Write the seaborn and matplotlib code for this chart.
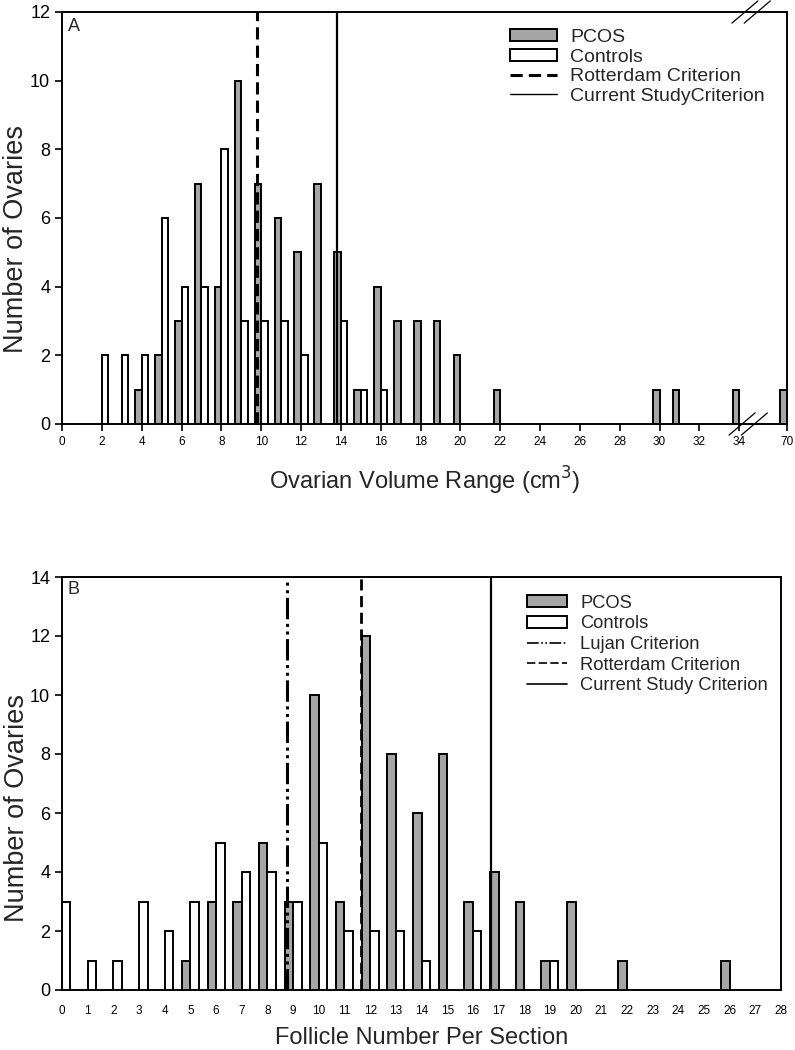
import numpy as np
import pandas as pd
import matplotlib
matplotlib.use("Agg")
import matplotlib.pyplot as plt
from matplotlib.patches import Patch
from matplotlib.lines import Line2D
import seaborn as sns

# Panel A: ovarian volume (cm3)
volume_bins = [2, 3, 4, 5, 6, 7, 8, 9, 10, 11, 12, 13, 14, 15, 16, 17, 18, 19, 20, 22, 30, 31, 34, 70]
volume_pcos = [0, 0, 1, 2, 3, 7, 4, 10, 7, 6, 5, 7, 5, 1, 4, 3, 3, 3, 2, 1, 1, 1, 1, 1]
volume_ctrl = [2, 2, 2, 6, 4, 4, 8, 3, 3, 3, 2, 0, 3, 1, 1, 0, 0, 0, 0, 0, 0, 0, 0, 0]
volume_ticks = [0, 2, 4, 6, 8, 10, 12, 14, 16, 18, 20, 22, 24, 26, 28, 30, 32, 34, 70]
volume_rotterdam = 9.8
volume_current = 13.8

# Panel B: follicle number per section
follicle_bins = list(range(0, 27))
follicle_pcos = [0, 0, 0, 0, 0, 1, 3, 3, 5, 3, 10, 3, 12, 8, 6, 8, 3, 4, 3, 1, 3, 0, 1, 0, 0, 0, 1]
follicle_ctrl = [3, 1, 1, 3, 2, 3, 5, 4, 4, 3, 5, 2, 2, 2, 1, 0, 2, 0, 0, 1, 0, 0, 0, 0, 0, 0, 0]
follicle_ticks = list(range(0, 29))
follicle_lujan = 8.75
follicle_rotterdam = 11.65
follicle_current = 16.7

GREY = "#a6a6a6"
groups = ["PCOS", "Controls"]


def broken_x(v):
    # everything above 34 is squeezed in after the axis break
    return v if v <= 34 else 36.4


def draw_bars(ax, positions, pcos, ctrl):
    df = pd.DataFrame({
        "pos": list(positions) * 2,
        "count": list(pcos) + list(ctrl),
        "group": ["PCOS"] * len(positions) + ["Controls"] * len(positions),
    })
    df = df[df["count"] > 0]
    sns.barplot(data=df, x="pos", y="count", hue="group", hue_order=groups,
                palette={"PCOS": GREY, "Controls": "white"}, saturation=1,
                native_scale=True, dodge=True, width=0.66, errorbar=None,
                edgecolor="black", linewidth=1.4, legend=False, ax=ax)


sns.set_style("ticks")
plt.rcParams["font.family"] = ["Liberation Sans", "DejaVu Sans"]

fig = plt.figure(figsize=(7.95, 10.5), dpi=100)
axA = fig.add_axes([62 / 795, 1 - 424 / 1050, 725 / 795, 412 / 1050])
axB = fig.add_axes([62 / 795, 1 - 990 / 1050, 719 / 795, 413 / 1050])

for ax in (axA, axB):
    for s in ax.spines.values():
        s.set_linewidth(1.4)
        s.set_color("black")
    ax.tick_params(direction="out", width=1.2, length=5, colors="black")

# ---- Panel A ----
draw_bars(axA, [broken_x(v) for v in volume_bins], volume_pcos, volume_ctrl)
axA.axvline(volume_rotterdam, color="black", lw=2.2, linestyle=(0, (4, 2)))
axA.axvline(volume_current, color="black", lw=1.6)
axA.set_xlim(0, broken_x(70))
axA.set_ylim(0, 12)
axA.set_xticks([broken_x(v) for v in volume_ticks])
axA.set_xticklabels([str(v) for v in volume_ticks], fontsize=8.5)
axA.set_yticks(range(0, 13, 2))
axA.set_yticklabels([str(v) for v in range(0, 13, 2)], fontsize=13)
axA.set_xlabel("Ovarian Volume Range (cm$^3$)", fontsize=17, labelpad=12)
axA.set_ylabel("Number of Ovaries", fontsize=19.5)
axA.yaxis.set_label_coords(-0.045, 0.45)
axA.text(0.008, 0.985, "A", transform=axA.transAxes, fontsize=13, va="top")

# axis break marks
for x0 in (0.920, 0.937):
    axA.plot([x0, x0 + 0.036], [-0.027, 0.027], transform=axA.transAxes,
             color="black", lw=0.9, clip_on=False)
    axA.plot([x0 + 0.004, x0 + 0.040], [0.973, 1.027], transform=axA.transAxes,
             color="black", lw=0.9, clip_on=False)

handlesA = [
    Patch(facecolor=GREY, edgecolor="black", lw=1.4, label="PCOS"),
    Patch(facecolor="white", edgecolor="black", lw=1.4, label="Controls"),
    Line2D([], [], color="black", lw=2.2, linestyle=(0, (4, 2)), label="Rotterdam Criterion"),
    Line2D([], [], color="black", lw=1.0, label="Current StudyCriterion"),
]
axA.legend(handles=handlesA, loc="upper left", bbox_to_anchor=(0.6075, 0.978),
           frameon=False, fontsize=14, handlelength=2.4, handleheight=0.62,
           handletextpad=0.67, labelspacing=0.13, borderaxespad=0)

# ---- Panel B ----
draw_bars(axB, follicle_bins, follicle_pcos, follicle_ctrl)
axB.axvline(follicle_lujan, color="black", lw=2.2, linestyle=(0, (7, 1.5, 1, 1.5, 1, 1.5)))
axB.axvline(follicle_rotterdam, color="black", lw=2.0, linestyle=(0, (4, 2)))
axB.axvline(follicle_current, color="black", lw=1.6)
axB.set_xlim(0, 28)
axB.set_ylim(0, 14)
axB.set_xticks(follicle_ticks)
axB.set_xticklabels([str(v) for v in follicle_ticks], fontsize=8.5)
axB.tick_params(axis="x", which="major", length=0, pad=11)
axB.set_xticks(range(0, 29, 5), minor=True)
axB.tick_params(axis="x", which="minor", length=5, width=1.2, direction="out")
axB.set_yticks(range(0, 15, 2))
axB.set_yticklabels([str(v) for v in range(0, 15, 2)], fontsize=13)
axB.set_xlabel("Follicle Number Per Section", fontsize=17, labelpad=7)
axB.set_ylabel("Number of Ovaries", fontsize=19.5)
axB.yaxis.set_label_coords(-0.045, 0.44)
axB.text(0.008, 0.99, "B", transform=axB.transAxes, fontsize=13, va="top")

handlesB = [
    Patch(facecolor=GREY, edgecolor="black", lw=1.4, label="PCOS"),
    Patch(facecolor="white", edgecolor="black", lw=1.4, label="Controls"),
    Line2D([], [], color="black", lw=1.2, linestyle=(0, (7, 1.5, 1, 1.5, 1, 1.5)), label="Lujan Criterion"),
    Line2D([], [], color="black", lw=1.2, linestyle=(0, (5, 2)), label="Rotterdam Criterion"),
    Line2D([], [], color="black", lw=1.2, label="Current Study Criterion"),
]
axB.legend(handles=handlesB, loc="upper left", bbox_to_anchor=(0.6366, 0.975),
           frameon=False, fontsize=13.2, handlelength=2.2, handleheight=0.65,
           handletextpad=0.7, labelspacing=0.2, borderaxespad=0)

fig.savefig("out.png", dpi=100)
